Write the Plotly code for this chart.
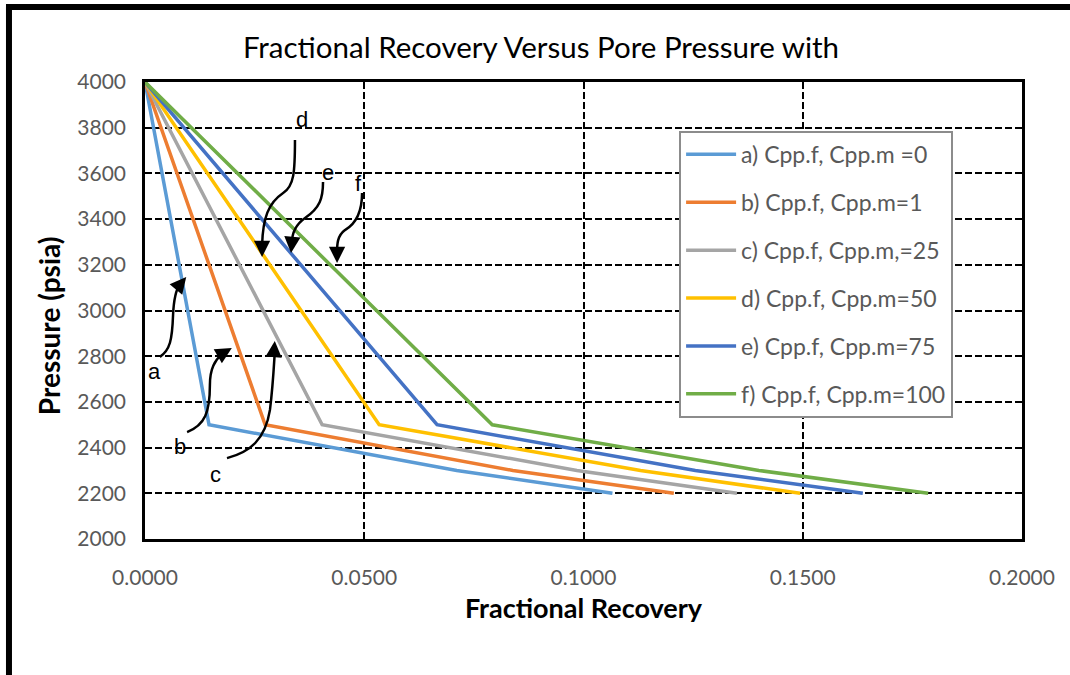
import plotly.graph_objects as go

# ---- data ----
pressure = [4000, 2500, 2300, 2200]
rec_a = [0.0, 0.0146, 0.0711, 0.1066]
rec_b = [0.0, 0.0274, 0.0839, 0.1206]
rec_c = [0.0, 0.0404, 0.0985, 0.1350]
rec_d = [0.0, 0.0534, 0.1130, 0.1494]
rec_e = [0.0, 0.0666, 0.1255, 0.1637]
rec_f = [0.0, 0.0792, 0.1400, 0.1786]

names = ["a) Cpp.f, Cpp.m =0", "b) Cpp.f, Cpp.m=1", "c) Cpp.f, Cpp.m,=25",
         "d) Cpp.f, Cpp.m=50", "e) Cpp.f, Cpp.m=75", "f) Cpp.f, Cpp.m=100"]
series = [rec_a, rec_b, rec_c, rec_d, rec_e, rec_f]
colors = ["#5B9BD5", "#ED7D31", "#A5A5A5", "#FFC000", "#4472C4", "#70AD47"]

x_ticks = [0.0, 0.05, 0.10, 0.15, 0.20]
y_ticks = list(range(2000, 4001, 200))

# callout labels: letter, label pos, curve points (data coords), arrow tip, tail offset (px)
callouts = [
    ("a", (0.0021, 2731),
     [(0.0034, 2797), (0.0057, 2827), (0.0062, 2871), (0.0064, 2980),
      (0.0066, 3068), (0.0073, 3098), (0.0080, 3116)], (0.0094, 3147), (-9, 11)),
    ("b", (0.0080, 2403),
     [(0.0096, 2468), (0.0137, 2499), (0.0148, 2556), (0.0148, 2674),
      (0.0148, 2748), (0.0160, 2783), (0.0176, 2810)], (0.0198, 2836), (-12, 7)),
    ("c", (0.0160, 2284),
     [(0.0187, 2354), (0.0239, 2381), (0.0274, 2433), (0.0285, 2565),
      (0.0292, 2674), (0.0294, 2761), (0.0296, 2818)], (0.0296, 2867), (-1, 14)),
    ("d", (0.0358, 3834),
     [(0.0342, 3746), (0.0342, 3606), (0.0340, 3545), (0.0315, 3514),
      (0.0281, 3470), (0.0269, 3405), (0.0267, 3287)], (0.0267, 3234), (0, -14)),
    ("e", (0.0417, 3606),
     [(0.0406, 3562), (0.0406, 3492), (0.0399, 3449), (0.0365, 3405),
      (0.0342, 3374), (0.0335, 3330), (0.0335, 3295)], (0.0333, 3252), (1, -12)),
    ("f", (0.0486, 3558),
     [(0.0495, 3514), (0.0495, 3449), (0.0488, 3387), (0.0456, 3352),
      (0.0438, 3326), (0.0438, 3287), (0.0438, 3256)], (0.0438, 3208), (0, -12)),
]

fig = go.Figure()
for i, (nm, xs, col) in enumerate(zip(names, series, colors)):
    fig.add_trace(go.Scatter(x=xs, y=pressure, mode="lines", name=nm,
                             legendgroup=str(i),
                             line=dict(color=col, width=3.5)))

shapes = []
annotations = []
for letter, lpos, pts, tip, off in callouts:
    p = pts
    path = "M {},{} C {},{} {},{} {},{} C {},{} {},{} {},{}".format(
        p[0][0], p[0][1], p[1][0], p[1][1], p[2][0], p[2][1], p[3][0], p[3][1],
        p[4][0], p[4][1], p[5][0], p[5][1], p[6][0], p[6][1])
    shapes.append(dict(type="path", path=path, xref="x", yref="y",
                       line=dict(color="black", width=2.5)))
    annotations.append(dict(x=tip[0], y=tip[1], xref="x", yref="y", text="",
                            showarrow=True, arrowhead=2, arrowsize=1.3,
                            arrowwidth=2.5, arrowcolor="black",
                            ax=off[0], ay=off[1], standoff=0))
    annotations.append(dict(x=lpos[0], y=lpos[1], xref="x", yref="y", text=letter,
                            showarrow=False,
                            font=dict(family="Liberation Sans, Arial", size=22, color="black")))

# y axis title
annotations.append(dict(x=-0.131, y=0.466, xref="paper", yref="paper",
                        text="<b>Pressure (psia)</b>", textangle=-90, showarrow=False,
                        font=dict(family="Lato", size=28, color="black")))

# outer frame (left and top edges)
shapes.append(dict(type="line", xref="paper", yref="paper", x0=-0.1551, x1=-0.1551,
                   y0=1.1641, y1=-0.30, line=dict(color="black", width=6)))
shapes.append(dict(type="line", xref="paper", yref="paper", x0=-0.1585, x1=1.06,
                   y0=1.1641, y1=1.1641, line=dict(color="black", width=6)))

fig.update_layout(
    width=1070, height=675,
    margin=dict(l=145, r=48, t=82, b=136),
    paper_bgcolor="white", plot_bgcolor="white",
    title=dict(text="Fractional Recovery Versus Pore Pressure with",
               x=0.5056, xref="container", xanchor="center",
               y=0.930, yref="container", yanchor="middle",
               font=dict(family="Lato", size=29.5, color="black")),
    showlegend=True,
    legend=dict(x=0.609, y=0.893, xanchor="left", yanchor="top",
                bgcolor="white", bordercolor="#8c8c8c", borderwidth=2,
                font=dict(family="Lato", size=23, color="#595959"),
                tracegroupgap=15, itemwidth=50),
    shapes=shapes, annotations=annotations,
)
fig.update_xaxes(range=[0, 0.2], tickvals=x_ticks, tickformat=".4f",
                 showgrid=True, gridcolor="black", gridwidth=1.5, griddash="7px,3px",
                 zeroline=False, showline=True, linecolor="black", linewidth=2.5,
                 mirror=True, ticks="", ticklabelstandoff=18, automargin=False,
                 tickfont=dict(family="Lato", size=21, color="#595959"),
                 title=dict(text="<b>Fractional Recovery</b>", standoff=12,
                            font=dict(family="Lato", size=27, color="black")))
fig.update_yaxes(range=[2000, 4000], tickvals=y_ticks,
                 showgrid=True, gridcolor="black", gridwidth=1.5, griddash="7px,3px",
                 zeroline=False, showline=True, linecolor="black", linewidth=2.5,
                 mirror=True, ticks="", ticklabelstandoff=12, automargin=False,
                 tickfont=dict(family="Lato", size=21, color="#595959"))

fig.write_html("out.html")
